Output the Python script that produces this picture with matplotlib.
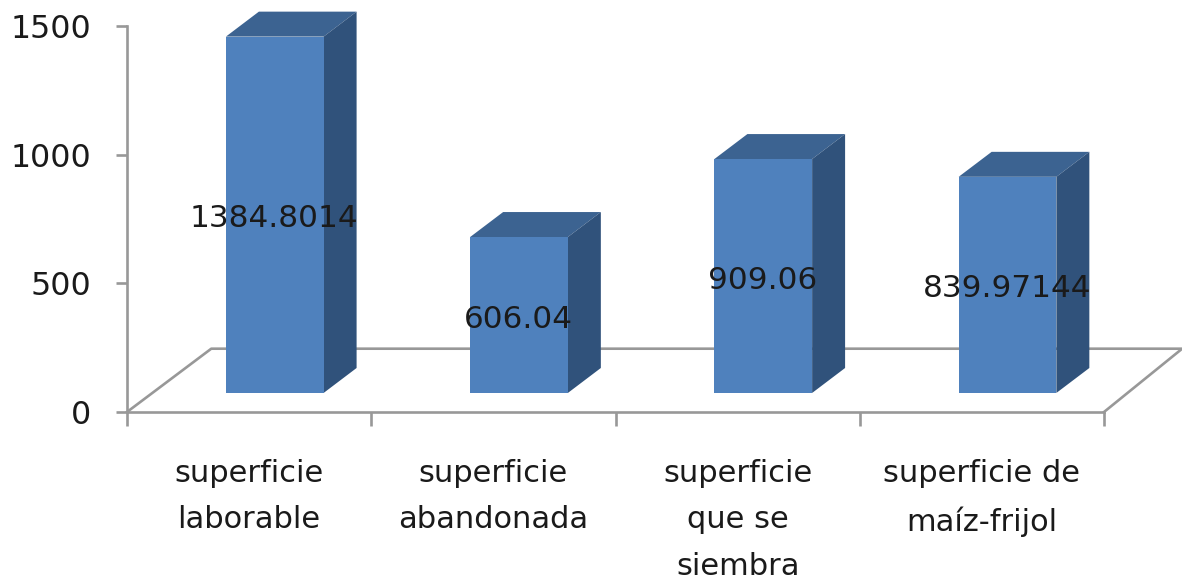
import matplotlib
matplotlib.use('Agg')
import matplotlib.pyplot as plt
from matplotlib.patches import Polygon

categorias = ['superficie\nlaborable', 'superficie\nabandonada', 'superficie\nque se\nsiembra', 'superficie de\nmaíz-frijol']
valores = [1384.8014, 606.04, 909.06, 839.97144]
etiquetas = ['1384.8014', '606.04', '909.06', '839.97144']
yticks = [0, 500, 1000, 1500]

frente = '#4f81bd'
arriba = '#3c6391'
lado = '#30527b'
gris = '#989898'

W, H = 1182, 582
fig = plt.figure(figsize=(W / 100, H / 100), dpi=100)
ax = fig.add_axes([127 / W, 1 - 412 / H, 977 / W, 386 / H])
ax.set_xlim(0, 4)
ax.set_ylim(0, 1500)

# pseudo 3d: depth offsets in data units
base = 74
dx, dy = 0.135, 97
piso_izq, piso_der, piso_dy = 0.345, 0.32, 246
ancho = 0.4
inicio = 0.405

# floor
ax.plot([0, piso_izq, 4 + piso_der, 4], [0, piso_dy, piso_dy, 0], color=gris, lw=1.9, clip_on=False, zorder=1)

posiciones = [i + inicio for i in range(len(valores))]
ax.bar(posiciones, valores, ancho, bottom=base, align='edge', color=frente, zorder=3, clip_on=False)
for x, v, t in zip(posiciones, valores, etiquetas):
    top = base + v
    ax.add_patch(Polygon([(x, top), (x + dx, top + dy), (x + ancho + dx, top + dy), (x + ancho, top)],
                         closed=True, fc=arriba, ec='none', zorder=2, clip_on=False))
    ax.add_patch(Polygon([(x + ancho, base), (x + ancho + dx, base + dy), (x + ancho + dx, top + dy), (x + ancho, top)],
                         closed=True, fc=lado, ec='none', zorder=2, clip_on=False))
    ax.text(x + ancho / 2 - 0.003, base + v / 2 - 16, t, ha='center', va='center', fontsize=22.4, color='#1a1a1a', zorder=5)

for s in ['top', 'right']:
    ax.spines[s].set_visible(False)
for s in ['left', 'bottom']:
    ax.spines[s].set_color(gris)
    ax.spines[s].set_linewidth(1.9)
    ax.spines[s].set_zorder(1)

ax.set_yticks(yticks)
ax.set_xticks(range(5))
ax.set_xticklabels([])
ax.tick_params(axis='y', length=8, width=1.9, color=gris, labelsize=22.8, pad=18, labelcolor='#1a1a1a')
ax.tick_params(axis='x', which='major', length=10, width=1.9, color=gris)
ax.set_xticks([i + 0.5 for i in range(4)], minor=True)
ax.set_xticklabels(categorias, minor=True, fontsize=22, color='#1a1a1a', linespacing=1.75)
ax.tick_params(axis='x', which='minor', length=0, pad=34)

fig.savefig('out.png', dpi=100)
